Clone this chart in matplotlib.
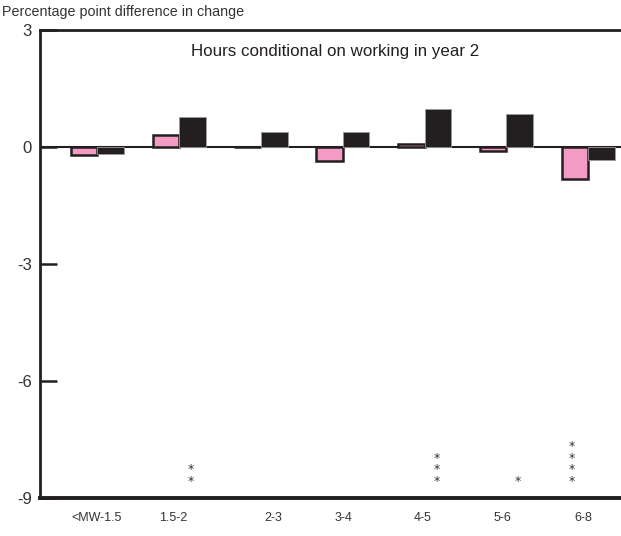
import numpy as np
import matplotlib.pyplot as plt

# Datos
categorias = ['<MW-1.5', '1.5-2', '2-3', '3-4', '4-5', '5-6', '6-8']
serie_rosa = [-0.21, 0.30, 0.0, -0.36, 0.06, -0.12, -0.83]
serie_negra = [-0.19, 0.76, 0.38, 0.38, 0.96, 0.85, -0.34]
estrellas = [0, 2, 0, 0, 3, 1, 4]  # número de asteriscos por categoría

# Ajustes de posición (sólo maquetación)
desplaz_etiquetas = [-0.01, -0.07, 0.15, 0.01, -0.03, -0.05, -0.06]
desplaz_estrellas = [0, 0.14, 0, 0, 0.15, 0.14, -0.2]

plt.rcParams['font.family'] = ['Liberation Sans', 'DejaVu Sans']

rosa = '#f39bc4'
negro = '#231f20'

fig = plt.figure(figsize=(6.21, 5.36), dpi=100)
ax = fig.add_axes([40 / 621, 1 - 498 / 536, 1 - 40 / 621, (498 - 29.6) / 536])

x = np.arange(len(categorias))
ancho = 0.325
ax.bar(x - ancho / 2, serie_rosa, width=ancho, color=rosa, edgecolor=negro, linewidth=1.8, zorder=3)
ax.bar(x + ancho / 2, serie_negra, width=ancho, color=negro, edgecolor='#9a9a9a', linewidth=0.6, zorder=4)
ax.axhline(0, color=negro, linewidth=1.5, zorder=2)

# Asteriscos de significación
for i, n in enumerate(estrellas):
    for k in range(n):
        ax.text(x[i] + desplaz_estrellas[i], -8.58 + 0.30 * k, '*', ha='center', va='center',
                fontsize=9, color='#333333', family=['DejaVu Sans'])

ax.set_xlim(-0.70, 6.40)
ax.set_ylim(-9, 3)
ax.set_yticks([3, 0, -3, -6, -9])
ax.set_yticklabels(['3', '0', '-3', '-6', '-9'], fontsize=12, color='#333333')
ax.tick_params(axis='y', direction='in', length=12, width=1.8, color=negro, pad=6)
ax.set_xticks(x + np.array(desplaz_etiquetas))
ax.set_xticklabels(categorias, fontsize=9, color='#333333')
ax.tick_params(axis='x', length=0, pad=10)

for lado in ['left', 'top']:
    ax.spines[lado].set_linewidth(2)
    ax.spines[lado].set_color(negro)
ax.spines['bottom'].set_linewidth(2.8)
ax.spines['bottom'].set_color(negro)
ax.spines['right'].set_visible(False)

ax.text(0.508, 0.953, 'Hours conditional on working in year 2', transform=ax.transAxes,
        ha='center', va='center', fontsize=12.2, color=negro)
fig.text(2 / 621, 1 - 12 / 536, 'Percentage point difference in change', ha='left', va='center',
         fontsize=10.3, color='#333333')

fig.savefig('out.png', dpi=100)
